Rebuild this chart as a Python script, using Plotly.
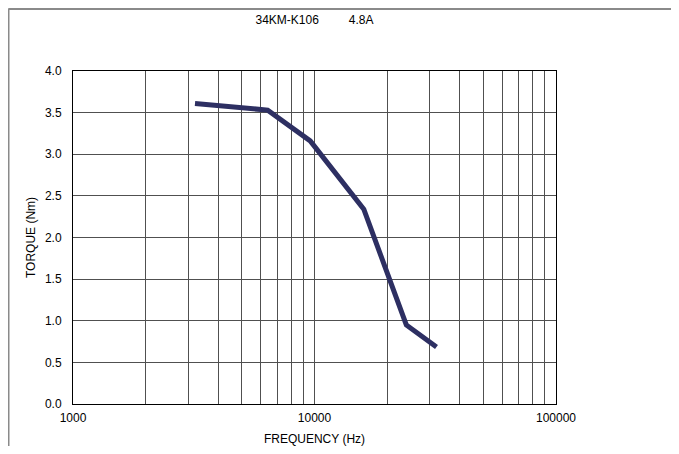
import plotly.graph_objects as go

# Data
freq_hz = [3200, 6400, 9600, 16000, 24000, 32000]
torque_nm = [3.61, 3.53, 3.16, 2.34, 0.95, 0.685]

x_major = [1000, 10000, 100000]
x_major_labels = ["1000", "10000", "100000"]
x_minor = [2000, 3000, 4000, 5000, 6000, 7000, 8000, 9000,
           20000, 30000, 40000, 50000, 60000, 70000, 80000, 90000]
y_ticks = [0.0, 0.5, 1.0, 1.5, 2.0, 2.5, 3.0, 3.5, 4.0]

title_text = "34KM-K106" + "\u00a0" * 9 + "4.8A"
x_title = "FREQUENCY (Hz)"
y_title = "TORQUE (Nm)"

OFF = 8  # page body margin
W, H = 679 - OFF, 454 - 2 * OFF
# desired plot area in page pixels: x 73..556, y 71..404
L = 73 - OFF
T = 71 - OFF
R = W - (556 - OFF)
B = H - (404 - OFF)
pw, ph = W - L - R, H - T - B


def px(x_page):
    return (x_page - OFF - L) / pw


def py(y_page):
    return (H - B - (y_page - OFF)) / ph


font = dict(family="Liberation Sans, Arial, sans-serif", size=12, color="#000000")
grid_color = "#505050"

fig = go.Figure()
fig.add_trace(go.Scatter(
    x=freq_hz, y=torque_nm, mode="lines",
    line=dict(color="#2d2f62", width=5),
    showlegend=False, hoverinfo="skip",
))

fig.update_layout(
    width=W, height=H,
    margin=dict(l=L, r=R, t=T, b=B, pad=0, autoexpand=False),
    paper_bgcolor="white", plot_bgcolor="white",
    font=font,
    title=dict(text=title_text, x=0.5, xref="paper", xanchor="center",
               y=1 - (20 - OFF) / H, yref="container", yanchor="middle",
               font=dict(size=12)),
    showlegend=False,
)

fig.update_xaxes(
    type="log", range=[3, 5],
    tickvals=x_major, ticktext=x_major_labels,
    showgrid=True, gridcolor=grid_color, gridwidth=1,
    minor=dict(tickvals=x_minor, showgrid=True, gridcolor=grid_color, gridwidth=1, ticks=""),
    showline=True, linecolor="#000000", linewidth=1, mirror=True,
    ticks="outside", ticklen=3, tickcolor="rgba(0,0,0,0)",
    tickfont=dict(size=12),
    title=dict(text=x_title, standoff=15, font=dict(size=12)),
    zeroline=False, automargin=False,
)
fig.update_yaxes(
    range=[0, 4],
    tickvals=y_ticks, tickformat=".1f",
    showgrid=True, gridcolor=grid_color, gridwidth=1,
    showline=True, linecolor="#000000", linewidth=1, mirror=True,
    ticks="outside", ticklen=8, tickcolor="rgba(0,0,0,0)",
    tickfont=dict(size=12),
    title=dict(text=y_title, standoff=6, font=dict(size=12)),
    zeroline=False, automargin=False,
)

# Outer frame decoration
fig.add_shape(type="line", xref="paper", yref="paper",
              x0=px(8.5), x1=px(8.5), y0=py(8.5), y1=py(H + 20),
              line=dict(color="#8a8a8a", width=2), layer="above")
fig.add_shape(type="line", xref="paper", yref="paper",
              x0=px(8.5), x1=px(676), y0=py(9), y1=py(9),
              line=dict(color="#8a8a8a", width=2), layer="above")
fig.add_shape(type="line", xref="paper", yref="paper",
              x0=px(676), x1=px(676), y0=py(8.5), y1=py(H + 20),
              line=dict(color="#6a6a6a", width=2), layer="above")

fig.write_html("out.html")
